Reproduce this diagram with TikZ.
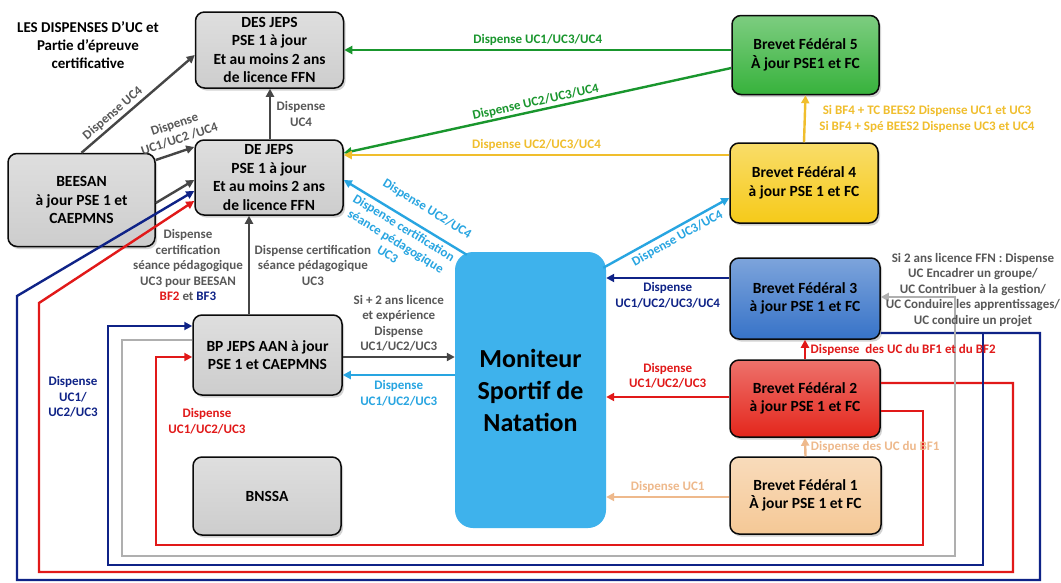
\documentclass[tikz,border=0pt]{standalone}
\usepackage{fontspec}
\setmainfont{Carlito}
\usetikzlibrary{calc, shadows, arrows.meta}
\definecolor{InkBlack}{RGB}{10, 10, 10}
\definecolor{ArrowGrey}{RGB}{70, 70, 70}
\definecolor{LabelGrey}{RGB}{88, 88, 88}
\definecolor{RouteGrey}{RGB}{175, 175, 175}
\definecolor{BoxGrey}{RGB}{205, 205, 205}
\definecolor{FedGreen}{RGB}{25, 150, 45}
\definecolor{FedGreenBox}{RGB}{55, 178, 60}
\definecolor{FedYellow}{RGB}{240, 190, 45}
\definecolor{FedYellowBox}{RGB}{246, 202, 25}
\definecolor{FedBlueBox}{RGB}{55, 115, 200}
\definecolor{FedNavy}{RGB}{15, 35, 135}
\definecolor{FedRed}{RGB}{225, 25, 25}
\definecolor{FedRedBox}{RGB}{228, 38, 28}
\definecolor{FedTan}{RGB}{238, 185, 140}
\definecolor{FedTanBox}{RGB}{245, 200, 150}
\definecolor{SkyBlue}{RGB}{40, 165, 225}
\definecolor{SkyBlueBox}{RGB}{62, 178, 236}
\newcommand{\boxfont}{\fontsize{15.5}{18.5}\selectfont\bfseries}
\newcommand{\lblfont}{\fontsize{13}{15.5}\selectfont\bfseries}
\tikzset{
  box/.style={draw=InkBlack, line width=1.5pt, rounded corners=9pt,
    top color=#1!65!white, bottom color=#1, align=center, font=\boxfont,
    minimum width=148pt, minimum height=78pt, inner sep=2pt,
    drop shadow={opacity=0.35, shadow xshift=2pt, shadow yshift=-2.5pt}},
  arr/.style={line width=2.4pt, -{Triangle[length=8pt, width=8pt]}},
  lbl/.style={font=\lblfont, align=center, inner sep=1.5pt}
}

\begin{document}
\begin{tikzpicture}[x=1pt, y=-1pt]
    \fill[white] (0,0) rectangle (1061,582);
    \useasboundingbox (0,0) rectangle (1061,582);
    % Titre
    \node[font=\fontsize{15}{18}\selectfont\bfseries, align=center] (title) at (88,45) {LES DISPENSES D’UC et\\Partie d’épreuve\\certificative};

    % Diplomes
    \node[box=BoxGrey, minimum height=76pt] (desjeps) at (269.5,50) {DES JEPS\\PSE 1 à jour\\Et au moins 2 ans\\de licence FFN};
    \node[box=BoxGrey, minimum height=75pt] (dejeps) at (269,177.5) {DE JEPS\\PSE 1 à jour\\Et au moins 2 ans\\de licence FFN};
    \node[box=BoxGrey, minimum width=147pt, minimum height=93pt] (beesan) at (81.5,200) {BEESAN\\à jour PSE 1 et\\CAEPMNS};
    \node[box=BoxGrey, minimum width=149pt, minimum height=80pt] (bpjeps) at (267.5,355) {BP JEPS AAN à jour\\PSE 1 et CAEPMNS};
    \node[box=BoxGrey] (bnssa) at (267,496) {BNSSA};
    \node[fill=SkyBlueBox, rounded corners=18pt, minimum width=151pt, minimum height=276pt, align=center,
      font=\fontsize{26}{32}\selectfont\bfseries] (msn) at (530.5,390) {Moniteur\\Sportif de\\Natation};

    % Brevets federaux
    \node[box=FedGreenBox, minimum width=147pt, minimum height=79pt] (bf5) at (805.5,55) {Brevet Fédéral 5\\À jour PSE1 et FC};
    \node[box=FedYellowBox, minimum height=80pt] (bf4) at (804,183) {Brevet Fédéral 4\\à jour PSE 1 et FC};
    \node[box=FedBlueBox, minimum width=150pt, minimum height=81pt] (bf3) at (805,298.5) {Brevet Fédéral 3\\à jour PSE 1 et FC};
    \node[box=FedRedBox, minimum width=150pt, minimum height=77pt] (bf2) at (805,398.5) {Brevet Fédéral 2\\à jour PSE 1 et FC};
    \node[box=FedTanBox, minimum width=151pt, minimum height=77pt] (bf1) at (805.5,495.5) {Brevet Fédéral 1\\À jour PSE 1 et FC};

    % Longs trajets
    \draw[arr, FedNavy] (bf3.east |- 0,333) -| (1040,580) -| (17,296) -- (dejeps.west |- 0,191);
    \draw[arr, FedRed] (bf2.east |- 0,383) -| (1013,572) -| (39,303) -- (dejeps.west |- 0,201);
    \draw[arr, FedNavy] (bf3.east |- 0,333) -| (983,565) -| (108,326) -- (bpjeps.west |- 0,326);
    \draw[arr, RouteGrey] (bpjeps.west |- 0,340) -| (122,556) -| (955,297) -- (bf3.east |- 0,297);
    \draw[arr, FedRed] (bf2.east |- 0,411) -| (923,545) -| (156,357) -- (bpjeps.west |- 0,357);
    \node[lbl, FedNavy] (lblnavy) at (73,397) {Dispense\\UC1/\\UC2/UC3};
    \node[lbl, FedRed] (lblred) at (207,421) {Dispense\\UC1/UC2/UC3};
    \node[lbl, LabelGrey] (lblgrey) at (973,290) {Si 2 ans licence FFN : Dispense\\UC Encadrer un groupe/\\UC Contribuer à la gestion/\\UC Conduire les apprentissages/\\UC conduire un projet};

    % BEESAN
    \draw[arr, ArrowGrey] (beesan.north) -- (desjeps.west |- 0,55) node[lbl, LabelGrey, pos=0.33, above=1pt, sloped] {Dispense UC4};
    \draw[arr, ArrowGrey] (beesan.east |- 0,160) -- (dejeps.west |- 0,147) node[lbl, LabelGrey, pos=0.72, above=5pt, sloped] {Dispense\\UC1/UC2 /UC4};
    \draw[arr, ArrowGrey] (beesan.east |- 0,203) -- (dejeps.west |- 0,180);
    \node[lbl, LabelGrey] (lblbeesan) at (188,265) {Dispense\\certification\\séance pédagogique\\UC3 pour BEESAN\\{\color{FedRed}BF2} et {\color{FedNavy}BF3}};

    % JEPS
    \draw[arr, ArrowGrey] (dejeps.north -| 270,0) -- (desjeps.south -| 270,0) node[lbl, LabelGrey, midway, right=4pt] {Dispense\\UC4};
    \draw[arr, ArrowGrey] (bpjeps.north -| 249,0) -- (dejeps.south -| 249,0) node[lbl, LabelGrey, midway, right=3pt] {Dispense certification\\séance pédagogique\\UC3};
    \draw[arr, ArrowGrey] (bpjeps.east |- 0,357) -- (msn.west |- 0,357) node[lbl, LabelGrey, midway, above=3pt] {Si + 2 ans licence\\et expérience\\Dispense\\UC1/UC2/UC3};
    \draw[arr, SkyBlue] (msn.west |- 0,375) -- (bpjeps.east |- 0,375) node[lbl, midway, below=3pt] {Dispense\\UC1/UC2/UC3};

    % Moniteur
    \draw[arr, SkyBlue] ($(msn.north west)+(12,3)$) -- (dejeps.east |- 0,180);
    \node[lbl, SkyBlue, rotate=-31.6] (lblsky1) at (427,209) {Dispense UC2/UC4};
    \node[lbl, SkyBlue, rotate=-31.6] (lblsky2) at (396,241) {Dispense certification\\séance pédagogique\\UC3};
    \draw[arr, SkyBlue] ($(msn.north east)+(-3,16)$) -- (bf4.west |- 0,198) node[lbl, pos=0.55, below=2pt, sloped] {Dispense UC3/UC4};

    % Federaux
    \draw[arr, FedGreen] (bf5.west |- 0,50) -- (desjeps.east |- 0,50) node[lbl, midway, above=2pt] {Dispense UC1/UC3/UC4};
    \draw[arr, FedGreen] (bf5.west |- 0,68) -- (dejeps.east |- 0,153) node[lbl, midway, above, sloped] {Dispense UC2/UC3/UC4};
    \draw[arr, FedYellow] (bf4.west |- 0,155) -- (dejeps.east |- 0,155) node[lbl, midway, above=2pt] {Dispense UC2/UC3/UC4};
    \draw[arr, FedYellow] (bf4.north) -- (bf5.south) node[lbl, midway, right=12pt] {Si BF4 + TC BEES2 Dispense UC1 et UC3\\Si BF4 + Spé BEES2 Dispense UC3 et UC4};
    \draw[arr, FedNavy] (bf3.west |- 0,278) -- (msn.east |- 0,278) node[lbl, midway, below=2pt] {Dispense\\UC1/UC2/UC3/UC4};
    \draw[arr, FedRed] (bf2.north) -- (bf3.south) node[lbl, midway, right=3pt] {Dispense\ \ des UC du BF1 et du BF2};
    \draw[arr, FedRed] (bf2.west |- 0,397) -- (msn.east |- 0,397) node[lbl, midway, above=6pt] {Dispense\\UC1/UC2/UC3};
    \draw[arr, FedTan] (bf1.north) -- (bf2.south) node[lbl, midway, right=3pt] {Dispense des UC du BF1};
    \draw[arr, FedTan] (bf1.west |- 0,497) -- (msn.east |- 0,497) node[lbl, midway, above=2pt] {Dispense UC1};
\end{tikzpicture}
\end{document}
